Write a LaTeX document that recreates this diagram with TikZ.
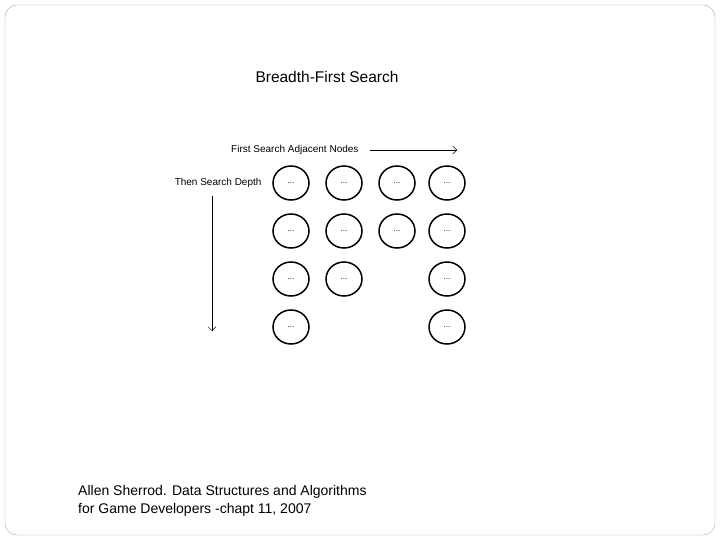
\documentclass[tikz,border=0pt]{standalone}
\usepackage{fontspec}
\setmainfont{Liberation Sans}
\usetikzlibrary{arrows.meta,shapes.geometric}

\tikzset{
  bnode/.style={ellipse,draw,line width=1.5pt,minimum width=36pt,minimum height=34pt,inner sep=0pt,font=\fontsize{8}{8}\selectfont},
  lbl/.style={font=\fontsize{10}{10}\selectfont},
  barb/.style={-{Straight Barb[length=4pt,width=8pt]},thin}
}

\begin{document}
\begin{tikzpicture}[x=1pt,y=-1pt]
    \useasboundingbox (0,0) rectangle (720,540);
    \draw[gray!70,rounded corners=12pt] (5,5) rectangle (715,535);

    %Title
    \node (title) at (327,77) {\fontsize{15.5}{15.5}\selectfont Breadth-First Search};

    %Labels
    \node[lbl,anchor=east] (adj) at (362,150) {First Search Adjacent Nodes};
    \coordinate (adjend) at (457,150);
    \draw[barb] (adj.east) ++(8,0) -- (adjend);
    \node[lbl,anchor=east] (depth) at (265,183) {Then Search Depth};
    \coordinate (depthtop) at (212,196);
    \coordinate (depthend) at (212,331);
    \draw[barb] (depthtop) -- (depthend);

    %Nodes
    \foreach \c/\x in {1/291,2/344,3/397,4/447}
      \node[bnode] (n1\c) at (\x,183) {...};
    \foreach \c/\x in {1/291,2/344,3/397,4/447}
      \node[bnode] (n2\c) at (\x,231) {...};
    \node[bnode] (n31) at (291,279) {...};
    \node[bnode] (n32) at (344,279) {...};
    \node[bnode] (n34) at (447,279) {...};
    \node[bnode] (n41) at (291,327) {...};
    \node[bnode] (n44) at (447,327) {...};

    %Reference
    \node[anchor=north west,align=left,font=\fontsize{14}{18}\selectfont,inner sep=0pt] (ref) at (78,485)
      {Allen Sherrod. Data Structures and Algorithms\\for Game Developers -chapt 11, 2007};
\end{tikzpicture}
\end{document}
